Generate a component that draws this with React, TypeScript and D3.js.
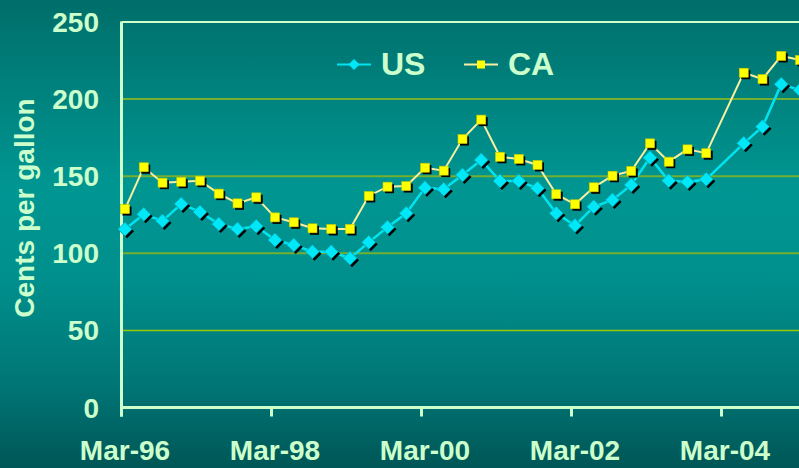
import React from "react";
import * as d3 from "d3";

const periods: string[] = [
  "1996-03","1996-06","1996-09","1996-12",
  "1997-03","1997-06","1997-09","1997-12",
  "1998-03","1998-06","1998-09","1998-12",
  "1999-03","1999-06","1999-09","1999-12",
  "2000-03","2000-06","2000-09","2000-12",
  "2001-03","2001-06","2001-09","2001-12",
  "2002-03","2002-06","2002-09","2002-12",
  "2003-03","2003-06","2003-09","2003-12",
  "2004-03","2004-06","2004-09","2004-12",
  "2005-03",
];

const usValues: (number | null)[] = [
  115.6, 125.3, 121, 132, 126.8, 119, 115.8, 117.5,
  108.6, 105.4, 101, 101, 96.8, 107.1, 116.9, 125.9,
  142.5, 141.5, 150.8, 160.5, 146.9, 146.9, 142.2, 125.9,
  118, 130.2, 134.6, 144.3, 162, 147.1, 146.2, 148,
  null, 171.3, 182.1, 209.6, 205.9,
];

const caValues: (number | null)[] = [
  128.7, 155.8, 145.8, 146.4, 147.1, 138.7, 132.4, 136.3,
  123.3, 120.1, 116.2, 115.8, 115.8, 137.2, 143.2, 143.6,
  155.5, 153.6, 174.1, 186.7, 162.6, 161.2, 157.3, 138.3,
  131.8, 142.8, 150.3, 153.4, 171.3, 159.4, 167.4, 164.9,
  null, 217.1, 213, 228, 225.4,
];

const xTickPeriods: string[] = ["1996-03", "1998-03", "2000-03", "2002-03", "2004-03"];
const xTickLabels: string[] = ["Mar-96", "Mar-98", "Mar-00", "Mar-02", "Mar-04"];
const yTicks: number[] = [0, 50, 100, 150, 200, 250];
const seriesNames: string[] = ["US", "CA"];
const yAxisTitle = "Cents per gallon";

const W = 799;
const H = 468;
const TEXT = "#ccffcc";
const FONT = "'Liberation Sans', Arial, sans-serif";

function monthIndex(p: string): number {
  const [y, m] = p.split("-").map(Number);
  return (y - 1996) * 12 + (m - 3);
}

export default function App() {
  const x = d3.scaleLinear().domain([0, 108]).range([121.5, 796.5]);
  const y = d3.scaleLinear().domain([0, 250]).range([407.5, 22]);
  const mid = 0.56;

  const mk = (vals: (number | null)[]) =>
    periods
      .map((p, i) => ({ m: monthIndex(p) + mid, v: vals[i] }))
      .filter((d) => d.v !== null) as { m: number; v: number }[];

  const us = mk(usValues);
  const ca = mk(caValues);

  const line = d3
    .line<{ m: number; v: number }>()
    .x((d) => x(d.m))
    .y((d) => y(d.v));

  const diamond = (cx: number, cy: number, r: number) =>
    `M${cx},${cy - r}L${cx + r},${cy}L${cx},${cy + r}L${cx - r},${cy}Z`;

  return (
    <svg
      width={W}
      height={H}
      style={{ position: "fixed", left: 0, top: 0, display: "block" }}
      fontFamily={FONT}
    >
      <defs>
        <linearGradient id="bg" x1="0" y1="0" x2="0" y2="1">
          <stop offset="0" stopColor="#006e6a" />
          <stop offset="0.4" stopColor="#009692" />
          <stop offset="0.6" stopColor="#008f8c" />
          <stop offset="0.82" stopColor="#007676" />
          <stop offset="1" stopColor="#005656" />
        </linearGradient>
        <clipPath id="clip">
          <rect x={0} y={0} width={W} height={H} />
        </clipPath>
      </defs>
      <rect x={0} y={0} width={W} height={H} fill="url(#bg)" />

      {/* gridlines */}
      {yTicks
        .filter((t) => t > 0)
        .map((t) => (
          <line
            key={"g" + t}
            x1={x(0)}
            x2={W}
            y1={y(t)}
            y2={y(t)}
            stroke={t === 250 ? TEXT : t === 50 ? "#99c800" : "#74b030"}
            strokeWidth={t === 50 ? 1.5 : 2}
          />
        ))}

      {/* axes */}
      <line x1={x(0)} x2={x(0)} y1={y(250) - 0.5} y2={y(0) + 9} stroke={TEXT} strokeWidth={3} />
      <line x1={x(0)} x2={W} y1={y(0)} y2={y(0)} stroke={TEXT} strokeWidth={3} />
      {xTickPeriods.map((p) => (
        <line
          key={"t" + p}
          x1={x(monthIndex(p))}
          x2={x(monthIndex(p))}
          y1={y(0)}
          y2={y(0) + 9}
          stroke={TEXT}
          strokeWidth={3}
        />
      ))}

      {/* y tick labels */}
      {yTicks.map((t) => (
        <text
          key={"yl" + t}
          x={99}
          y={y(t) + 10}
          textAnchor="end"
          fontSize={28}
          fontWeight="bold"
          fill={TEXT}
        >
          {t}
        </text>
      ))}

      {/* x tick labels */}
      {xTickPeriods.map((p, i) => (
        <text
          key={"xl" + p}
          x={x(monthIndex(p) + mid)}
          y={460}
          textAnchor="middle"
          fontSize={28}
          fontWeight="bold"
          fill={TEXT}
        >
          {xTickLabels[i]}
        </text>
      ))}

      {/* y axis title */}
      <text
        transform={`translate(34,208) rotate(-90)`}
        textAnchor="middle"
        fontSize={28}
        fontWeight="bold"
        fill={TEXT}
      >
        {yAxisTitle}
      </text>

      <g clipPath="url(#clip)">
        {/* US series */}
        <path d={line(us) || ""} fill="none" stroke="#00e4f0" strokeWidth={2.5} />
        {us.map((d, i) => (
          <path key={"uss" + i} d={diamond(x(d.m) + 2, y(d.v) + 2, 7)} fill="#000" />
        ))}
        {us.map((d, i) => (
          <path
            key={"us" + i}
            d={diamond(x(d.m), y(d.v), 7)}
            fill="#00e8f8"
            stroke="#00a8b8"
            strokeWidth={0.8}
          />
        ))}

        {/* CA series */}
        <path d={line(ca) || ""} fill="none" stroke="#f8f0a0" strokeWidth={2} />
        {ca.map((d, i) => (
          <rect key={"cas" + i} x={x(d.m) - 4.5 + 2} y={y(d.v) - 4.5 + 2} width={9} height={9} fill="#000" />
        ))}
        {ca.map((d, i) => (
          <rect
            key={"ca" + i}
            x={x(d.m) - 4.5}
            y={y(d.v) - 4.5}
            width={9}
            height={9}
            fill="#ffff00"
            stroke="#c8c800"
            strokeWidth={0.6}
          />
        ))}
      </g>

      {/* legend */}
      <g>
        <line x1={337} x2={371} y1={64.5} y2={64.5} stroke="#00e4f0" strokeWidth={2} />
        <path d={diamond(354, 64.5, 5.5)} fill="#00e8f8" />
        <text x={381} y={75} fontSize={32} fontWeight="bold" fill={TEXT}>
          {seriesNames[0]}
        </text>
        <line x1={464} x2={498} y1={64.5} y2={64.5} stroke="#f8f0a0" strokeWidth={2} />
        <rect x={477} y={60.5} width={8} height={8} fill="#ffff00" />
        <text x={508} y={75} fontSize={32} fontWeight="bold" fill={TEXT}>
          {seriesNames[1]}
        </text>
      </g>
    </svg>
  );
}
